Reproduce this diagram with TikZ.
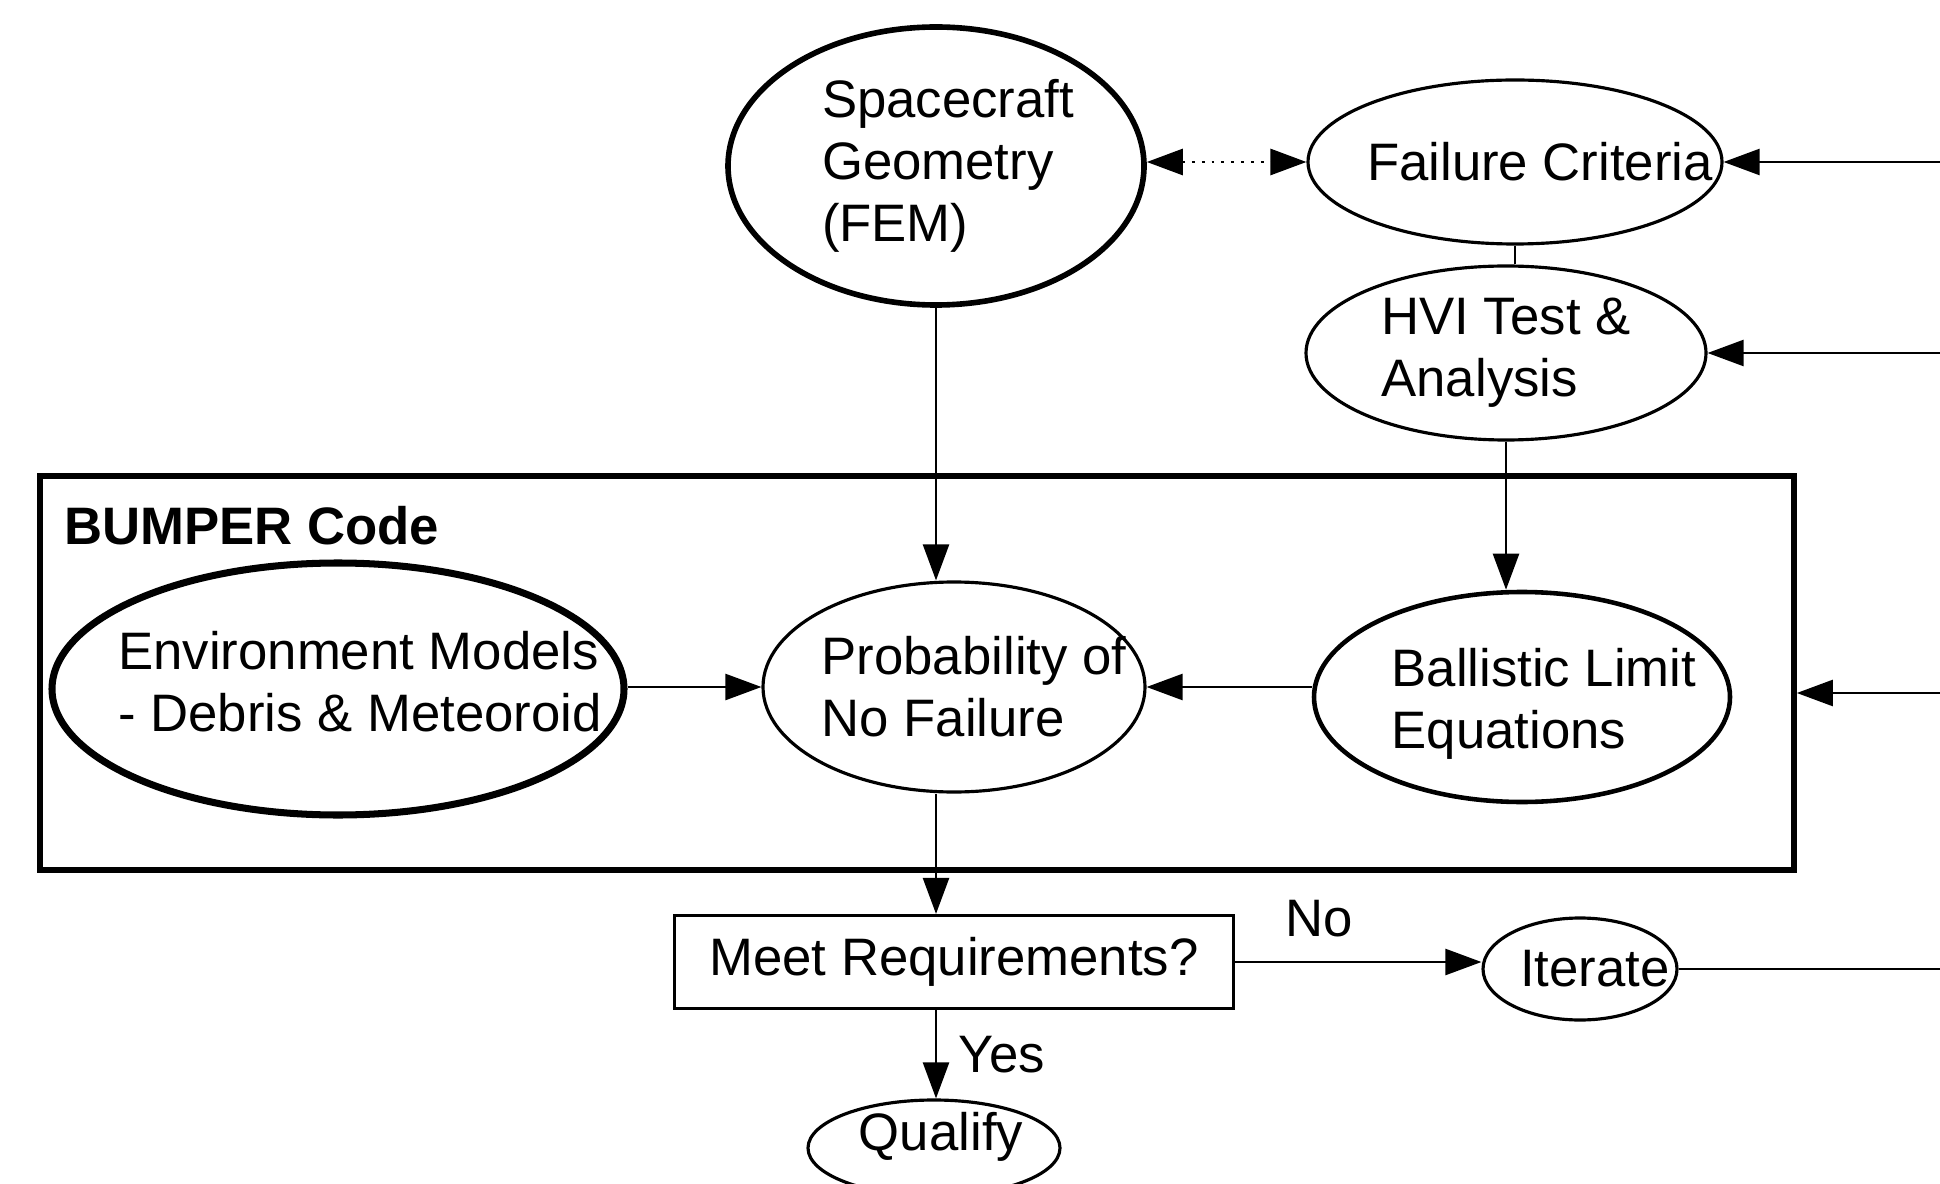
\documentclass[tikz,border=0pt]{standalone}
\usepackage{fontspec}
\setmainfont{Liberation Sans}
\usetikzlibrary{shapes.geometric,arrows.meta}
\tikzset{
  >={Triangle[length=3.6mm,width=2.6mm]},
  txt/.style={align=left, font=\fontsize{15}{17.6}\selectfont},
  blob/.style 2 args={ellipse, draw, line width=0.9pt, inner sep=0pt,
    minimum width=#1cm, minimum height=#2cm},
  heavy/.style={line width=1.6pt},
  flow/.style={->, line width=0.7pt},
}
\begin{document}
\begin{tikzpicture}
  \useasboundingbox (0,0) rectangle (19.40,-11.84);
  \coordinate (edge) at (19.40,0);

  \node[draw, heavy, inner sep=0pt, minimum width=17.54cm, minimum height=3.94cm]
    (bumper) at (9.17,-6.73) {};
  \node[txt, font=\fontsize{15}{17.6}\selectfont\bfseries, anchor=west]
    (bumpername) at (0.52,-5.26) {BUMPER Code};

  \node[blob={4.16}{2.78}, heavy,
    label={[txt,xshift=1.2mm]center:Spacecraft\\Geometry\\(FEM)}] (sc) at (9.36,-1.66) {};
  \node[blob={4.14}{1.64},
    label={[txt,xshift=2.5mm]center:Failure Criteria}] (fc) at (15.15,-1.62) {};
  \node[blob={4.00}{1.74},
    label={[txt]center:HVI Test \&\\Analysis}] (hvi) at (15.06,-3.53) {};
  \node[blob={5.72}{2.52}, line width=2pt,
    label={[txt,xshift=2.2mm,yshift=0.7mm]center:Environment Models\\- Debris \& Meteoroid}] (env) at (3.38,-6.89) {};
  \node[blob={3.82}{2.10},
    label={[txt,xshift=2mm]center:Probability of\\No Failure}] (prob) at (9.54,-6.87) {};
  \node[blob={4.16}{2.10}, line width=1.3pt,
    label={[txt,xshift=2.2mm,yshift=-0.7mm]center:Ballistic Limit\\Equations}] (bal) at (15.22,-6.97) {};
  \node[draw, line width=0.9pt, minimum width=5.59cm, minimum height=0.93cm, txt]
    (meet) at (9.54,-9.62) {Meet Requirements?};
  \node[blob={1.94}{1.02},
    label={[txt,xshift=1.5mm]center:Iterate}] (it) at (15.80,-9.69) {};
  \node[blob={2.52}{0.96},
    label={[txt,xshift=0.7mm,yshift=1.1mm]center:Qualify}] (qual) at (9.34,-11.48) {};

  \coordinate (inC) at (19.40,-6.93);

  \draw[line width=0.8pt, dotted, <->]
    (sc.east |- fc.west) -- (fc.west);
  \draw[flow] (fc.east -| edge) -- (fc.east);
  \draw[flow] (hvi.east -| edge) -- (hvi.east);
  \draw[line width=0.7pt] (fc.south) -- (fc.south |- hvi.north);
  \draw[flow] (sc.south) -- (sc.south |- prob.north);
  \draw[flow] (hvi.south) -- (hvi.south |- bal.north);
  \draw[flow] (env.east |- prob.east) -- (prob.east -| prob.west);
  \draw[flow] (prob.east -| bal.west) -- (prob.east);
  \draw[flow] (inC) -- (inC -| bumper.east);
  \draw[flow] (prob.south -| sc.south) -- (sc.south |- meet.north);
  \draw[flow] (meet.east) -- (meet.east -| it.west)
    node[txt, pos=0.34, above=1.2mm] {No};
  \draw[flow] (sc.south |- meet.south) -- (sc.south |- qual.north)
    node[txt, midway, right=1mm] {Yes};
  \draw[line width=0.7pt] (it.east) -- (it.east -| edge);
\end{tikzpicture}
\end{document}
